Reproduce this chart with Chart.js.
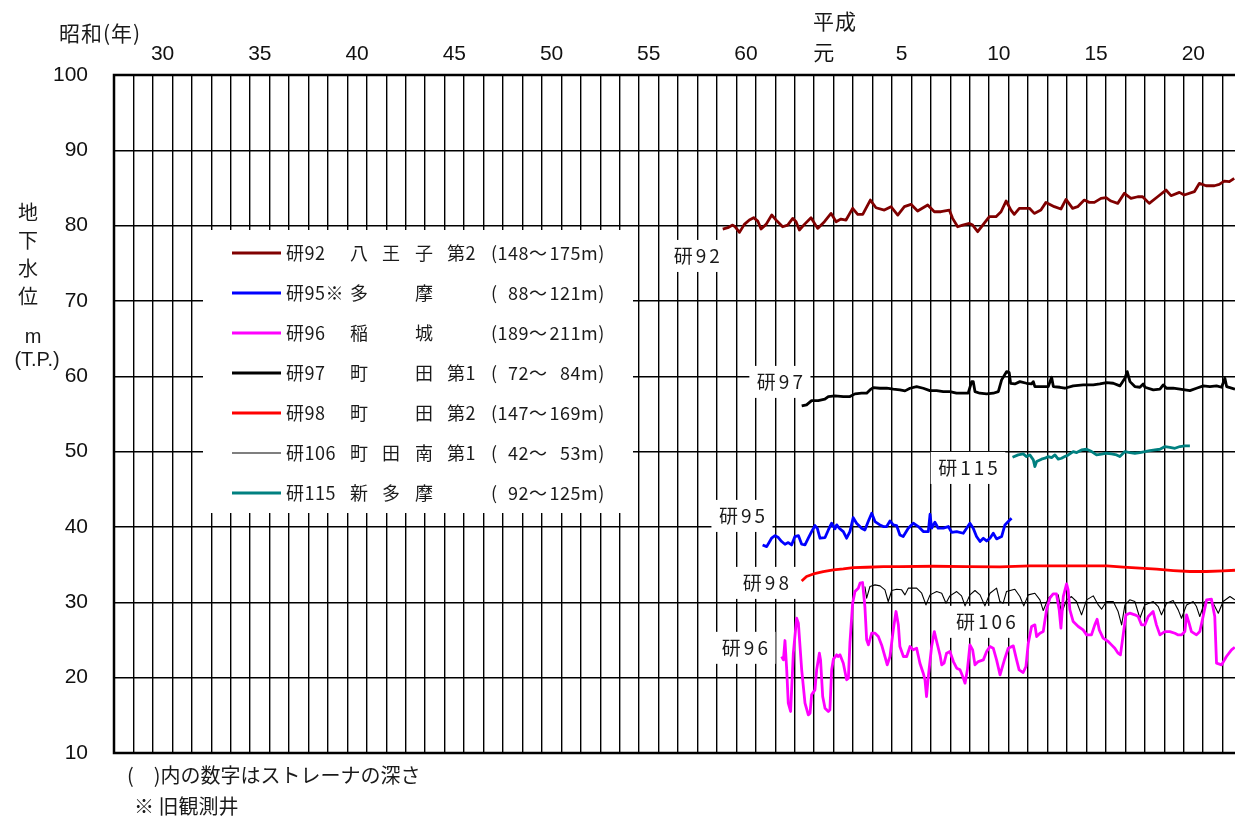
<!DOCTYPE html>
<html>
<head>
<meta charset="utf-8">
<script src="https://cdn.jsdelivr.net/npm/chart.js@4.4.0/dist/chart.umd.min.js"></script>
<style>
html, body { margin: 0; padding: 0; background: #fff; }
</style>
</head>
<body>
<canvas id="gwChart" width="1235" height="816"></canvas>
<script>
// x = 西暦年 (小数), y = 地下水位 m (T.P.)
const ken92 = [[1984.30,79.55],[1984.56,79.73],[1984.81,80.08],[1984.93,79.86],[1985.16,79.11],[1985.41,80.17],[1985.67,80.75],[1985.89,81.06],[1986.10,80.61],[1986.27,79.55],[1986.53,80.17],[1986.82,81.41],[1987.09,80.61],[1987.38,79.86],[1987.64,80.08],[1987.90,80.97],[1988.07,80.53],[1988.24,79.42],[1988.50,80.17],[1988.84,81.06],[1989.18,79.64],[1989.53,80.53],[1989.87,81.63],[1990.13,80.53],[1990.38,80.88],[1990.64,80.75],[1990.98,82.30],[1991.24,81.50],[1991.50,81.50],[1991.89,83.40],[1992.18,82.38],[1992.61,82.07],[1992.95,82.52],[1993.30,81.41],[1993.64,82.52],[1993.98,82.83],[1994.32,81.94],[1994.84,82.74],[1995.18,81.85],[1995.52,81.85],[1995.95,82.07],[1996.12,80.97],[1996.38,79.86],[1996.64,80.08],[1996.98,80.30],[1997.15,80.08],[1997.41,79.20],[1997.67,80.08],[1998.01,81.19],[1998.35,81.19],[1998.61,81.85],[1998.87,83.27],[1999.12,82.07],[1999.29,81.50],[1999.55,82.30],[1999.81,82.30],[2000.07,82.30],[2000.32,81.63],[2000.66,82.07],[2000.92,83.09],[2001.35,82.52],[2001.69,82.21],[2001.95,83.49],[2002.29,82.30],[2002.55,82.52],[2002.89,83.40],[2003.15,83.09],[2003.41,83.09],[2003.75,83.62],[2004.01,83.71],[2004.26,83.27],[2004.61,82.96],[2004.95,84.29],[2005.29,83.62],[2005.64,83.84],[2005.89,83.84],[2006.23,82.96],[2006.66,83.84],[2007.09,84.73],[2007.35,83.98],[2007.78,84.42],[2008.03,84.07],[2008.55,84.51],[2008.81,85.62],[2009.15,85.30],[2009.58,85.30],[2009.83,85.48],[2010.09,85.92],[2010.35,85.84],[2010.60,86.28]];

const ken95 = [[1986.35,37.62],[1986.56,37.40],[1986.81,38.51],[1986.99,38.86],[1987.16,38.60],[1987.33,38.07],[1987.50,37.71],[1987.67,37.93],[1987.84,37.62],[1988.01,38.73],[1988.19,38.86],[1988.36,37.71],[1988.53,37.62],[1988.70,38.51],[1988.87,39.39],[1989.04,40.19],[1989.16,39.84],[1989.30,38.51],[1989.56,38.60],[1989.73,39.61],[1989.90,40.50],[1990.07,39.75],[1990.16,40.28],[1990.29,39.84],[1990.50,39.39],[1990.67,38.51],[1990.84,39.39],[1991.01,41.25],[1991.18,40.50],[1991.44,39.84],[1991.61,39.61],[1991.78,40.72],[1991.96,41.83],[1992.13,40.72],[1992.38,40.28],[1992.56,40.06],[1992.73,40.06],[1992.90,40.81],[1993.07,40.28],[1993.24,40.19],[1993.41,38.95],[1993.58,38.73],[1993.84,39.84],[1994.10,40.50],[1994.36,40.06],[1994.61,39.39],[1994.87,39.39],[1994.96,41.69],[1995.04,39.84],[1995.21,40.63],[1995.38,39.84],[1995.64,39.84],[1995.90,40.06],[1996.07,39.30],[1996.33,39.39],[1996.67,39.17],[1996.84,39.84],[1997.01,40.50],[1997.18,39.84],[1997.35,38.73],[1997.53,38.07],[1997.70,38.51],[1997.87,38.15],[1998.04,38.51],[1998.21,39.17],[1998.38,38.42],[1998.64,38.73],[1998.81,40.28],[1998.98,40.72],[1999.15,41.16]];

const ken96 = [[1987.33,22.81],[1987.42,22.36],[1987.50,24.93],[1987.59,21.04],[1987.67,16.61],[1987.79,15.51],[1987.93,23.25],[1988.10,27.89],[1988.19,27.23],[1988.36,21.04],[1988.53,16.61],[1988.70,15.06],[1988.79,15.28],[1988.87,17.72],[1989.04,18.38],[1989.13,21.04],[1989.27,23.25],[1989.33,22.36],[1989.44,17.50],[1989.56,15.95],[1989.73,15.51],[1989.81,15.73],[1989.90,21.04],[1989.99,22.45],[1990.16,23.03],[1990.24,22.81],[1990.33,23.03],[1990.50,21.92],[1990.67,19.71],[1990.76,19.93],[1990.84,24.58],[1990.98,29.89],[1991.10,31.43],[1991.27,31.88],[1991.36,32.54],[1991.49,32.63],[1991.61,29.44],[1991.70,25.02],[1991.79,24.35],[1991.96,25.90],[1992.13,25.90],[1992.30,25.46],[1992.47,24.35],[1992.64,22.81],[1992.76,21.70],[1992.90,22.81],[1993.07,26.35],[1993.21,28.78],[1993.33,27.01],[1993.41,24.13],[1993.59,22.81],[1993.76,22.81],[1993.93,24.13],[1994.10,23.69],[1994.27,23.91],[1994.44,21.92],[1994.61,20.59],[1994.70,19.71],[1994.78,17.50],[1994.87,20.15],[1995.04,24.13],[1995.18,26.12],[1995.30,24.80],[1995.47,23.03],[1995.56,21.70],[1995.68,21.92],[1995.81,23.25],[1995.98,23.47],[1996.16,22.14],[1996.33,21.26],[1996.50,21.04],[1996.64,20.15],[1996.76,19.27],[1996.88,21.04],[1997.01,24.35],[1997.15,23.69],[1997.27,21.70],[1997.44,22.14],[1997.70,22.36],[1997.87,23.47],[1998.04,24.13],[1998.21,23.91],[1998.38,22.36],[1998.56,20.37],[1998.81,22.58],[1998.98,23.91],[1999.24,24.22],[1999.41,22.36],[1999.54,21.04],[1999.75,20.68],[1999.89,21.48],[2000.01,24.58],[2000.18,26.79],[2000.35,27.01],[2000.44,25.46],[2000.61,25.90],[2000.78,26.12],[2000.95,29.00],[2001.12,30.55],[2001.29,31.12],[2001.46,31.12],[2001.60,29.00],[2001.69,26.57],[2001.81,30.77],[2001.98,32.45],[2002.06,31.66],[2002.15,29.00],[2002.32,27.45],[2002.58,26.79],[2002.83,26.35],[2003.01,25.68],[2003.26,25.68],[2003.43,27.01],[2003.55,27.76],[2003.66,26.35],[2003.86,25.24],[2004.12,24.80],[2004.29,24.35],[2004.46,23.91],[2004.63,23.25],[2004.75,23.03],[2004.89,25.68],[2005.03,28.34],[2005.23,28.56],[2005.49,28.34],[2005.66,28.12],[2005.83,27.01],[2006.00,27.01],[2006.18,28.12],[2006.43,28.78],[2006.60,27.01],[2006.78,25.68],[2007.03,26.12],[2007.29,26.12],[2007.55,25.90],[2007.72,25.68],[2007.89,25.68],[2008.06,26.12],[2008.15,28.34],[2008.28,27.23],[2008.40,26.12],[2008.66,25.68],[2008.83,26.12],[2009.00,28.12],[2009.18,30.33],[2009.43,30.42],[2009.60,28.12],[2009.69,21.92],[2009.95,21.70],[2010.20,22.81],[2010.46,23.69],[2010.63,24.04]];

const ken97 = [[1988.36,56.07],[1988.61,56.21],[1988.87,56.78],[1989.21,56.78],[1989.55,56.96],[1989.73,57.31],[1990.07,57.40],[1990.50,57.31],[1990.84,57.31],[1991.10,57.67],[1991.44,57.76],[1991.70,57.76],[1991.87,58.20],[1992.04,58.51],[1992.38,58.42],[1992.73,58.42],[1993.07,58.29],[1993.41,58.20],[1993.67,58.07],[1993.93,58.42],[1994.27,58.64],[1994.61,58.42],[1994.95,58.11],[1995.30,58.11],[1995.64,57.98],[1995.98,57.98],[1996.32,57.76],[1996.67,57.76],[1996.92,57.76],[1997.10,59.30],[1997.18,59.30],[1997.27,57.98],[1997.52,57.76],[1997.87,57.67],[1998.21,57.76],[1998.47,57.98],[1998.64,59.53],[1998.90,60.63],[1999.03,60.50],[1999.10,59.08],[1999.32,58.99],[1999.58,59.30],[1999.92,59.08],[2000.18,58.99],[2000.27,59.30],[2000.35,58.64],[2000.61,58.64],[2001.04,58.64],[2001.21,59.88],[2001.30,58.64],[2001.64,58.55],[2001.89,58.42],[2002.32,58.73],[2002.84,58.86],[2003.35,58.86],[2003.69,58.99],[2004.04,59.17],[2004.38,59.08],[2004.72,58.73],[2004.98,59.75],[2005.10,60.63],[2005.24,59.30],[2005.49,58.64],[2005.75,58.55],[2005.92,58.99],[2006.01,58.55],[2006.44,58.20],[2006.78,58.29],[2006.95,58.86],[2007.12,58.42],[2007.46,58.42],[2007.81,58.29],[2008.32,58.11],[2008.66,58.42],[2009.01,58.73],[2009.35,58.64],[2009.69,58.73],[2009.95,58.55],[2010.12,59.75],[2010.21,58.64],[2010.64,58.29]];

const ken98 = [[1988.36,32.84],[1988.61,33.42],[1988.96,33.77],[1989.47,34.08],[1989.99,34.30],[1990.50,34.44],[1991.01,34.61],[1991.70,34.66],[1992.56,34.75],[1993.41,34.75],[1995.13,34.79],[1996.84,34.75],[1998.55,34.70],[2000.10,34.84],[2001.47,34.84],[2002.32,34.84],[2003.18,34.84],[2004.04,34.84],[2004.90,34.66],[2005.75,34.53],[2006.61,34.40],[2007.47,34.22],[2008.32,34.09],[2009.18,34.09],[2010.04,34.18],[2010.64,34.26]];

const ken106 = [[1991.61,32.10],[1991.70,30.55],[1991.87,32.10],[1992.13,32.32],[1992.39,32.19],[1992.64,31.66],[1992.81,30.11],[1992.99,31.57],[1993.24,31.74],[1993.50,31.66],[1993.67,30.99],[1993.84,31.88],[1994.27,31.88],[1994.53,31.21],[1994.75,29.66],[1994.96,30.99],[1995.30,31.43],[1995.56,31.21],[1995.78,29.89],[1995.98,30.86],[1996.33,31.43],[1996.58,30.86],[1996.76,29.53],[1997.01,30.99],[1997.27,31.57],[1997.53,30.99],[1997.78,29.53],[1998.04,31.21],[1998.38,31.88],[1998.55,30.11],[1998.72,29.89],[1998.89,31.43],[1999.32,31.74],[1999.58,30.77],[1999.78,29.53],[2000.01,30.99],[2000.35,31.21],[2000.61,30.33],[2000.78,28.91],[2001.04,30.55],[2001.29,31.12],[2001.55,30.99],[2001.72,28.56],[2001.98,30.33],[2002.23,30.77],[2002.49,30.11],[2002.75,28.34],[2003.01,30.33],[2003.35,30.86],[2003.61,29.66],[2003.78,29.09],[2004.03,30.11],[2004.38,30.11],[2004.63,28.78],[2004.81,27.01],[2004.98,29.66],[2005.23,30.33],[2005.49,30.11],[2005.75,27.89],[2006.00,29.66],[2006.43,30.11],[2006.69,29.44],[2006.86,28.34],[2007.12,29.89],[2007.46,30.24],[2007.72,29.00],[2007.89,27.89],[2008.15,29.66],[2008.49,30.11],[2008.66,29.44],[2008.83,28.12],[2009.09,30.11],[2009.35,30.42],[2009.52,29.89],[2009.78,28.56],[2010.03,30.11],[2010.38,30.77],[2010.63,30.33]];

const ken115 = [[1999.20,49.26],[1999.49,49.57],[1999.75,49.70],[1999.92,49.35],[2000.09,49.57],[2000.27,48.91],[2000.35,48.02],[2000.44,48.68],[2000.69,49.00],[2000.87,49.13],[2001.04,49.35],[2001.21,49.22],[2001.38,49.57],[2001.55,49.00],[2001.72,49.13],[2001.89,49.35],[2002.07,49.57],[2002.32,50.01],[2002.50,49.88],[2002.75,50.23],[2003.01,50.32],[2003.27,50.01],[2003.52,49.57],[2003.78,49.66],[2004.04,49.79],[2004.29,49.70],[2004.55,49.57],[2004.72,49.35],[2004.98,50.01],[2005.24,49.88],[2005.49,49.79],[2005.75,49.88],[2006.01,50.01],[2006.26,50.15],[2006.52,50.23],[2006.78,50.32],[2007.04,50.68],[2007.29,50.58],[2007.55,50.45],[2007.81,50.68],[2008.06,50.76],[2008.32,50.76]];

// 凡例の文字 (研番号, 地名の各桁, ストレーナ深度)
const wellNames = [
  ['研92', '八', '王', '子', '第2'],
  ['研95※', '多', '', '摩', ''],
  ['研96', '稲', '', '城', ''],
  ['研97', '町', '', '田', '第1'],
  ['研98', '町', '', '田', '第2'],
  ['研106', '町', '田', '南', '第1'],
  ['研115', '新', '多', '摩', '']
];
const depthTop = ['148', '88', '189', '72', '147', '42', '92'];
const depthBottom = ['175', '121', '211', '84', '169', '53', '125'];
const seriesColors = ['#800000', '#0000ff', '#ff00ff', '#000000', '#ff0000', '#000000', '#008080'];
const seriesWidths = [2.8, 2.8, 2.8, 2.8, 2.8, 1.1, 2.8];
const seriesData = [ken92, ken95, ken96, ken97, ken98, ken106, ken115];

// 年軸の目盛 (昭和・平成)
const yearTicks = [];
for (let yr = 1953; yr <= 2010; yr++) yearTicks.push(yr);
const yearLabels = {1955: '30', 1960: '35', 1965: '40', 1970: '45', 1975: '50', 1980: '55', 1985: '60',
  1989: '元', 1993: '5', 1998: '10', 2003: '15', 2008: '20'};

const curveTags = [
  {text: '研92', x: 1982.97, y: 75.98},
  {text: '研97', x: 1987.24, y: 59.26},
  {text: '研115', x: 1996.91, y: 47.84},
  {text: '研95', x: 1985.29, y: 41.47},
  {text: '研98', x: 1986.52, y: 32.58},
  {text: '研106', x: 1997.83, y: 27.41},
  {text: '研96', x: 1985.44, y: 23.96}
];

const JP = '"Noto Sans CJK JP", "Liberation Sans", sans-serif';
const NUM = '"Liberation Sans", "Noto Sans CJK JP", sans-serif';

const decor = {
  id: 'decor',
  beforeDatasetsDraw(chart) {
    const ctx = chart.ctx;
    const xs = chart.scales.x, ys = chart.scales.y;
    ctx.save();
    // legend
    ctx.fillStyle = '#fff';
    ctx.fillRect(203, 230, 430, 283);
    const cols = [286, 350, 382, 415, 447];
    ctx.font = '18px ' + JP;
    ctx.letterSpacing = '0.5px';
    ctx.textBaseline = 'middle';
    ctx.fillStyle = '#1a1a1a';
    wellNames.forEach((row, i) => {
      const ly = 253 + i * 40;
      const ds = chart.data.datasets[i];
      ctx.strokeStyle = ds.borderColor;
      ctx.lineWidth = ds.borderWidth;
      ctx.beginPath(); ctx.moveTo(232, ly); ctx.lineTo(281, ly); ctx.stroke();
      ctx.textAlign = 'left';
      row.forEach((t, c) => { if (t) ctx.fillText(t, cols[c], ly); });
      ctx.fillText('(', 491, ly);
      ctx.textAlign = 'right';
      ctx.fillText(depthTop[i], 529, ly);
      ctx.fillText(depthBottom[i], 581, ly);
      ctx.textAlign = 'left';
      ctx.fillText('〜', 529, ly);
      ctx.fillText('m)', 581, ly);
    });
    // curve labels
    ctx.font = '19px ' + JP;
    ctx.letterSpacing = '3px';
    ctx.textAlign = 'center';
    curveTags.forEach(t => {
      const px = xs.getPixelForValue(t.x), py = ys.getPixelForValue(t.y);
      const w = ctx.measureText(t.text).width;
      ctx.fillStyle = '#fff';
      ctx.fillRect(px - w / 2 - 6, py - 16, w + 12, 32);
      ctx.fillStyle = '#1a1a1a';
      ctx.fillText(t.text, px + 1.5, py);
    });
    ctx.restore();
  },
  afterDraw(chart) {
    const ctx = chart.ctx;
    const a = chart.chartArea;
    ctx.save();
    ctx.strokeStyle = '#000';
    ctx.lineWidth = 2.5;
    ctx.beginPath();
    ctx.moveTo(a.right + 2, a.top); ctx.lineTo(a.left, a.top);
    ctx.lineTo(a.left, a.bottom); ctx.lineTo(a.right + 2, a.bottom);
    ctx.stroke();
    ctx.fillStyle = '#1a1a1a';
    ctx.textBaseline = 'middle';
    ctx.textAlign = 'left';
    ctx.font = '21px ' + JP;
    ctx.letterSpacing = '1px';
    ctx.fillText('昭和(年)', 59, 33);
    ctx.fillText('平成', 813, 21);
    ctx.letterSpacing = '0px';
    ctx.textAlign = 'center';
    ctx.font = '20px ' + JP;
    ['地', '下', '水', '位'].forEach((ch, i) => ctx.fillText(ch, 28, 212 + i * 28));
    ctx.font = '20px ' + NUM;
    ctx.fillText('m', 33, 337);
    ctx.fillText('(T.P.)', 37, 360);
    ctx.textAlign = 'left';
    ctx.font = '20px ' + JP;
    ctx.fillText('(　)内の数字はストレーナの深さ', 127, 775);
    ctx.fillText('※ 旧観測井', 134, 806);
    ctx.restore();
  }
};

const ctx = document.getElementById('gwChart').getContext('2d');
const chart = new Chart(ctx, {
  type: 'line',
  data: {
    datasets: seriesData.map((d, i) => ({
      label: wellNames[i][0],
      data: d.map(p => ({x: p[0], y: p[1]})),
      borderColor: seriesColors[i],
      borderWidth: seriesWidths[i],
      pointRadius: 0,
      tension: 0,
      fill: false,
      borderJoinStyle: 'round'
    }))
  },
  options: {
    responsive: false,
    animation: false,
    layout: { padding: { left: 0, top: 0, right: 0, bottom: 63 } },
    plugins: { legend: { display: false }, tooltip: { enabled: false } },
    scales: {
      x: {
        type: 'linear',
        position: 'top',
        min: 1953,
        max: 2010.64,
        afterBuildTicks: s => { s.ticks = yearTicks.map(v => ({ value: v })); },
        afterFit: s => { s.height = 75; },
        grid: { color: '#000', lineWidth: 1.4, drawTicks: false },
        border: { display: false },
        ticks: {
          autoSkip: false,
          maxRotation: 0,
          padding: 8,
          labelOffset: 9.7,
          color: '#111',
          font: { family: NUM, size: 21 },
          callback: v => yearLabels[v] || ''
        }
      },
      y: {
        min: 10,
        max: 100,
        afterFit: s => { s.width = 114; },
        grid: { color: '#000', lineWidth: 1.4, drawTicks: false },
        border: { display: false },
        ticks: {
          stepSize: 10,
          padding: 26,
          color: '#111',
          font: { family: NUM, size: 21 }
        }
      }
    }
  },
  plugins: [decor]
});
</script>
</body>
</html>
